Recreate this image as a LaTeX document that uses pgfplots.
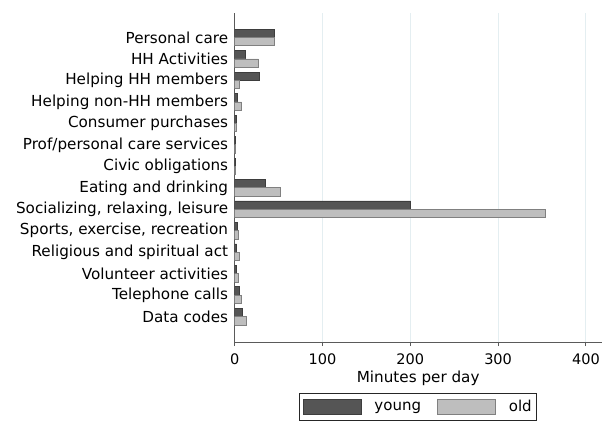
\documentclass[border=0pt]{standalone}
\usepackage{fontspec}
\setmainfont{DejaVu Sans}
\usepackage{pgfplots}
\pgfplotsset{compat=1.18}
\definecolor{young}{HTML}{555555}
\definecolor{youngedge}{HTML}{3D3D3D}
\definecolor{old}{HTML}{BEBEBE}
\definecolor{oldedge}{HTML}{808080}
\definecolor{gridc}{HTML}{E4EEF1}
\definecolor{axc}{HTML}{5A5A5A}
\begin{document}
\begin{tikzpicture}
\useasboundingbox (0,0) rectangle (611pt,-421pt);
\begin{axis}[
  at={(234.7pt,-13pt)}, anchor=north west,
  scale only axis, width=367pt, height=329pt,
  xbar, bar width=8.3pt,
  xmin=0, xmax=418,
  ymin=-0.18, ymax=15.14,
  axis lines*=left,
  axis line style={axc, line width=0.9pt, -},
  xtick={0,100,200,300,400},
  ytick={1,...,14},
  yticklabels={Data codes,Telephone calls,Volunteer activities,Religious and spiritual act,{Sports, exercise, recreation},{Socializing, relaxing, leisure},Eating and drinking,Civic obligations,Prof/personal care services,Consumer purchases,Helping non-HH members,Helping HH members,HH Activities,Personal care},
  ytick style={draw=none},
  xtick style={axc, line width=0.8pt},
  tick align=outside, major tick length=4pt,
  xmajorgrids, grid style={gridc, line width=0.8pt},
  /pgf/number format/assume math mode=true,
  tick label style={font=\fontsize{14.5}{17}\selectfont, text=black},
  yticklabel style={font=\fontsize{15.2}{18}\selectfont, inner sep=0pt, xshift=-2.4pt},
  xticklabel style={yshift=-4pt},
  xlabel={Minutes per day},
  xlabel style={font=\fontsize{15.2}{18}\selectfont, yshift=0pt},
  legend columns=2,
  legend style={at={(0.5,-0.1541)}, anchor=north, draw=black!85, line width=0.8pt,
    font=\fontsize{15}{18}\selectfont, inner xsep=3pt, inner ysep=5pt,
    /tikz/every even column/.append style={column sep=14pt}},
  legend image code/.code={\draw[#1] (0pt,-7.5pt) rectangle (58pt,7.5pt); \path (69pt,0pt);},
]
\addplot[fill=young, draw=youngedge, line width=0.8pt, bar shift=4.15pt] coordinates {
 (8.7,1) (5.6,2) (1.5,3) (2.2,4) (3,5) (200.4,6) (35.3,7) (1,8) (1,9) (1.5,10) (3.4,11) (27.7,12) (11.7,13) (45,14)};
\addplot[fill=old, draw=oldedge, line width=0.8pt, bar shift=-4.15pt] coordinates {
 (12.9,1) (8,2) (4,3) (5.6,4) (4,5) (353.8,6) (51.6,7) (0.8,8) (1,9) (1.8,10) (8,11) (5.3,12) (27,13) (45.5,14)};
\legend{young,old}
\end{axis}
\end{tikzpicture}
\end{document}
